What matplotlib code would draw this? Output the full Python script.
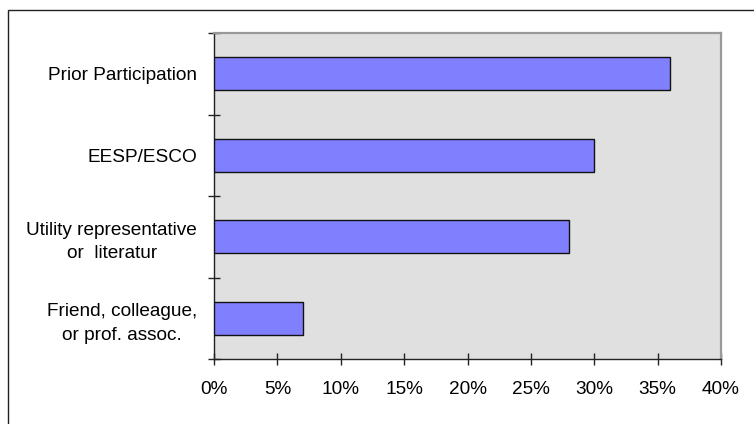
import matplotlib
matplotlib.use("Agg")
import matplotlib.pyplot as plt
from matplotlib.patches import Rectangle
from matplotlib.ticker import FixedLocator, FuncFormatter

plt.rcParams['font.family'] = ['Liberation Sans', 'DejaVu Sans']

# Source of information about the program (share of respondents)
categories = [
    "Prior Participation",
    "EESP/ESCO",
    "Utility representative\nor  literatur",
    "Friend, colleague,\nor prof. assoc.",
]
shares = [36, 30, 28, 7]
x_ticks = [0, 5, 10, 15, 20, 25, 30, 35, 40]

W, H = 754, 424
fig = plt.figure(figsize=(W / 100, H / 100), dpi=100)
ax = fig.add_axes([214 / W, 1 - 359 / H, (721 - 214) / W, (359 - 33) / H])

ax.set_facecolor('#e0e0e0')
ypos = list(range(len(categories)))
ax.barh(ypos, shares, height=0.41, color='#8080ff', edgecolor='#111111',
        linewidth=1.0, zorder=3)

ax.set_xlim(0, 40)
ax.set_ylim(len(categories) - 0.5, -0.5)

ax.xaxis.set_major_locator(FixedLocator(x_ticks))
ax.xaxis.set_major_formatter(FuncFormatter(lambda v, p: f"{v:.0f}%"))

# category ticks sit on the boundaries; labels are centered on the bars
ax.set_yticks([i - 0.5 for i in range(len(categories) + 1)])
ax.set_yticklabels([])
ax.set_yticks(ypos, minor=True)
ax.set_yticklabels(categories, minor=True)
ax.tick_params(axis='y', which='minor', length=0, pad=12.2, labelsize=13.7)
for lbl in ax.get_yticklabels(minor=True):
    lbl.set_multialignment('center')
    lbl.set_linespacing(1.5)

ax.tick_params(axis='y', which='major', direction='inout', length=9,
               width=1.0, color='#222222')
ax.tick_params(axis='x', direction='inout', length=9, width=1.0,
               color='#222222', pad=11.5, labelsize=13.7)

for side in ('left', 'bottom'):
    ax.spines[side].set_color('#222222')
    ax.spines[side].set_linewidth(1.0)
for side in ('top', 'right'):
    ax.spines[side].set_color('#999999')
    ax.spines[side].set_linewidth(1.6)

# outer chart frame
fig.add_artist(Rectangle((7.5 / W, -0.1), 2, (H - 10.5) / H + 0.1,
                         transform=fig.transFigure, fill=False,
                         edgecolor='#222222', linewidth=1.0))

fig.savefig('out.png', dpi=100)
